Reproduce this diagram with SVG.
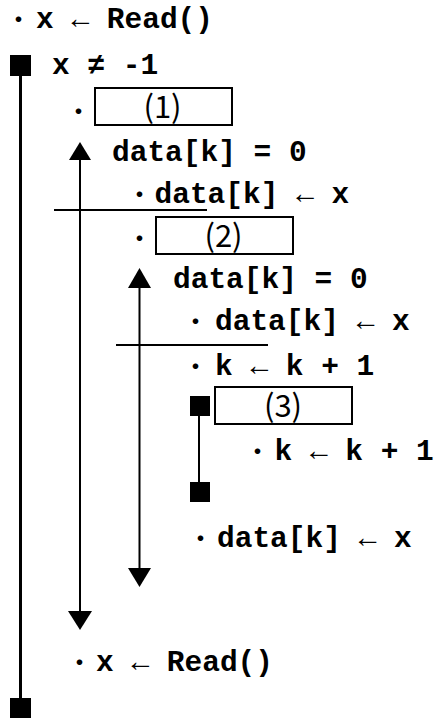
<svg xmlns="http://www.w3.org/2000/svg" width="434" height="718" viewBox="0 0 434 718">
<style>
.code{font-family:"Liberation Mono","DejaVu Sans Mono",monospace;font-weight:bold;font-size:29.5px;fill:#000}
.ar{font-weight:normal}
.dot{font-family:"Noto Sans CJK JP",sans-serif;font-weight:bold;font-size:22px;fill:#000;text-anchor:middle}
.lbl{font-family:"Noto Sans CJK JP",sans-serif;font-size:31px;fill:#000;text-anchor:middle}
.box{fill:#fff;stroke:#000;stroke-width:2}
.ln{stroke:#000;stroke-width:2;fill:none}
.thick{stroke:#000;stroke-width:3;fill:none}
.head{fill:#000}
.sq{fill:#000}
</style>
<g id="connectors">
<line class="thick" x1="20.5" y1="70" x2="20.5" y2="705"/>
<line class="ln" x1="80" y1="155" x2="80" y2="615"/>
<polygon class="head" points="80,142 69,160 91,160"/>
<polygon class="head" points="68,611 92,611 80,630"/>
<line class="ln" x1="139.5" y1="283" x2="139.5" y2="572"/>
<polygon class="head" points="139.5,268 128,288 151,288"/>
<polygon class="head" points="128,568 151,568 139.5,587"/>
<line class="ln" x1="54" y1="210" x2="207" y2="210"/>
<line class="ln" x1="116" y1="345" x2="268" y2="345"/>
<line class="ln" x1="199" y1="410" x2="199" y2="488"/>
</g>
<g id="n_read1">
<text class="dot" x="18.5" y="26.5">・</text>
<text class="code" x="36" y="28">x <tspan class="ar">←</tspan> Read()</text>
</g>
<g id="n_loop1">
<rect class="sq" x="10" y="55" width="21" height="21"/>
<text class="code" x="52" y="74">x ≠ -1</text>
<rect class="sq" x="10" y="698" width="21" height="21"/>
</g>
<g id="n_box1">
<text class="dot" x="78.5" y="118.5">・</text>
<rect class="box" x="95" y="88" width="137" height="37"/>
<text class="lbl" x="162.5" y="118">(1)</text>
</g>
<g id="n_cond1">
<text class="code" x="112" y="161">data[k] = 0</text>
</g>
<g id="n_assign1">
<text class="dot" x="139.5" y="201.5">・</text>
<text class="code" x="154.5" y="203">data[k] <tspan class="ar">←</tspan> x</text>
</g>
<g id="n_box2">
<text class="dot" x="139.5" y="245.5">・</text>
<rect class="box" x="156" y="217" width="137" height="37"/>
<text class="lbl" x="223.5" y="247">(2)</text>
</g>
<g id="n_cond2">
<text class="code" x="173" y="288">data[k] = 0</text>
</g>
<g id="n_assign2">
<text class="dot" x="195.5" y="328.5">・</text>
<text class="code" x="215" y="330">data[k] <tspan class="ar">←</tspan> x</text>
</g>
<g id="n_inc1">
<text class="dot" x="195.5" y="373.5">・</text>
<text class="code" x="215" y="375">k <tspan class="ar">←</tspan> k + 1</text>
</g>
<g id="n_loop3">
<rect class="sq" x="190" y="396" width="20" height="20"/>
<rect class="box" x="215" y="387" width="137" height="37"/>
<text class="lbl" x="283" y="417">(3)</text>
<rect class="sq" x="190" y="482" width="20" height="20"/>
</g>
<g id="n_inc2">
<text class="dot" x="257.5" y="458.5">・</text>
<text class="code" x="274.5" y="460">k <tspan class="ar">←</tspan> k + 1</text>
</g>
<g id="n_assign3">
<text class="dot" x="200.5" y="545.5">・</text>
<text class="code" x="217" y="547">data[k] <tspan class="ar">←</tspan> x</text>
</g>
<g id="n_read2">
<text class="dot" x="79.5" y="669.5">・</text>
<text class="code" x="96" y="671">x <tspan class="ar">←</tspan> Read()</text>
</g>
</svg>
